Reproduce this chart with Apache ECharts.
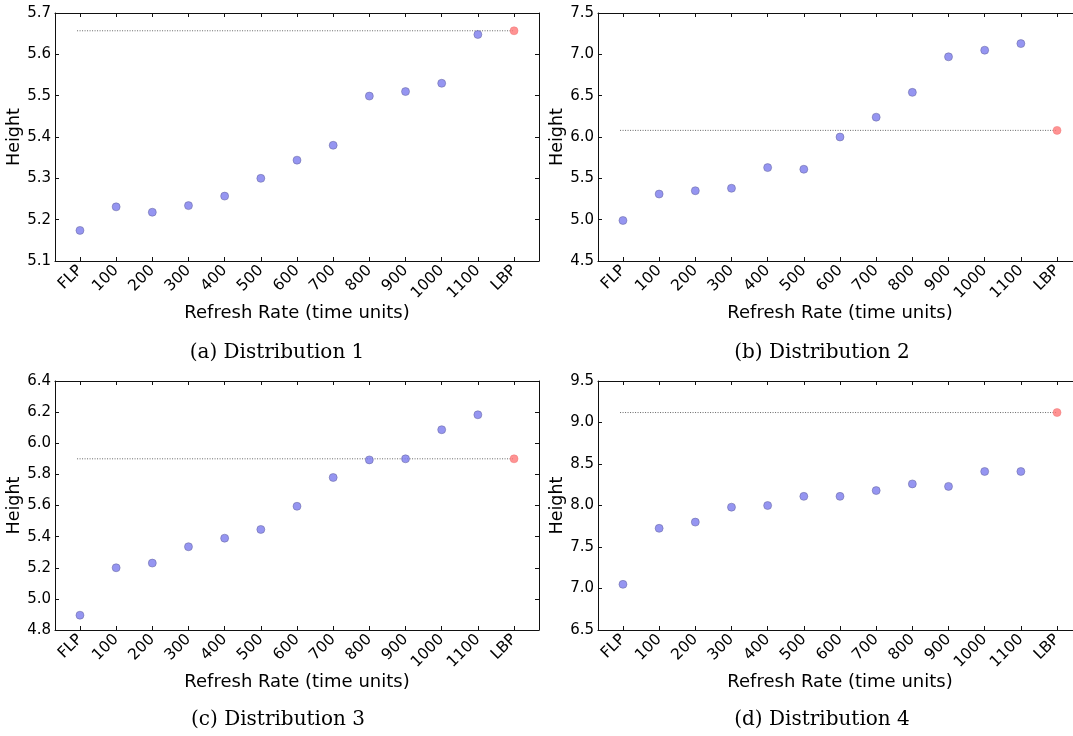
<!DOCTYPE html>
<html>
<head>
<meta charset="utf-8">
<script src="https://cdn.jsdelivr.net/npm/echarts@6/dist/echarts.min.js"></script>
<style>
  html, body { margin: 0; padding: 0; background: #fff; overflow: hidden; }
  /* wider than the window: the right-hand panels are cut off at the page edge like the original */
  #chart { width: 1090px; height: 736px; }
</style>
</head>
<body>
<div id="chart"></div>
<script>
const categories = ['FLP', '100', '200', '300', '400', '500', '600', '700', '800', '900', '1000', '1100', 'LBP'];

// last value of each list is the LBP reference point (drawn red)
const dist1 = [5.174, 5.231, 5.218, 5.234, 5.257, 5.300, 5.344, 5.380, 5.499, 5.510, 5.530, 5.648, 5.657];
const dist2 = [4.99, 5.31, 5.35, 5.38, 5.63, 5.61, 6.00, 6.24, 6.54, 6.97, 7.05, 7.13, 6.08];
const dist3 = [4.895, 5.20, 5.23, 5.335, 5.39, 5.446, 5.595, 5.78, 5.893, 5.90, 6.087, 6.183, 5.90];
const dist4 = [7.05, 7.725, 7.80, 7.98, 8.00, 8.11, 8.11, 8.18, 8.26, 8.23, 8.41, 8.41, 9.12];

const yMin = [5.1, 4.5, 4.8, 6.5];
const yMax = [5.7, 7.5, 6.4, 9.5];
const yStep = [0.1, 0.5, 0.2, 0.5];
const captions = ['(a) Distribution 1', '(b) Distribution 2', '(c) Distribution 3', '(d) Distribution 4'];

const panels = [dist1, dist2, dist3, dist4];
const sans = 'DejaVu Sans';
const pad = 0.69;
const last = categories.length - 1;

const grids = [
  { left: 55, top: 13, width: 484, height: 248 },
  { left: 598, top: 13, width: 484, height: 248 },
  { left: 55, top: 381, width: 484, height: 249 },
  { left: 598, top: 381, width: 484, height: 249 }
];
const captionPos = [[272, 338], [817, 338], [273, 705], [817, 705]];

const axisLine = { show: true, onZero: false, lineStyle: { color: '#111', width: 1 } };
const tickIn = { show: true, inside: true, length: 4, lineStyle: { color: '#111' } };
const tickIdx = categories.map((c, i) => i);

let xAxis = [], yAxis = [], series = [], title = [];

panels.forEach((vals, p) => {
  xAxis.push({
    type: 'value', gridIndex: p, min: -pad, max: last + pad,
    axisLine: axisLine, splitLine: { show: false },
    axisTick: Object.assign({ customValues: tickIdx }, tickIn),
    axisLabel: {
      customValues: tickIdx, rotate: 45, margin: 7, color: '#000',
      fontFamily: sans, fontSize: 15.5,
      formatter: v => categories[Math.round(v)]
    },
    name: 'Refresh Rate (time units)', nameLocation: 'middle', nameGap: 38,
    nameTextStyle: { color: '#000', fontFamily: sans, fontSize: 18 }
  });
  xAxis.push({
    type: 'value', gridIndex: p, position: 'top', min: -pad, max: last + pad,
    axisLine: axisLine, splitLine: { show: false },
    axisTick: Object.assign({ customValues: tickIdx }, tickIn),
    axisLabel: { show: false }
  });
  yAxis.push({
    type: 'value', gridIndex: p, min: yMin[p], max: yMax[p], interval: yStep[p],
    axisLine: axisLine, splitLine: { show: false }, axisTick: tickIn,
    axisLabel: { color: '#000', fontFamily: sans, fontSize: 15, margin: 4,
      formatter: v => v.toFixed(1) },
    name: 'Height', nameLocation: 'middle', nameGap: 25,
    nameTextStyle: { color: '#000', fontFamily: sans, fontSize: 17.5 }
  });
  yAxis.push({
    type: 'value', gridIndex: p, position: 'right', min: yMin[p], max: yMax[p], interval: yStep[p],
    axisLine: axisLine, splitLine: { show: false }, axisTick: tickIn,
    axisLabel: { show: false }
  });

  const ref = vals[last];
  series.push({
    type: 'line', xAxisIndex: p * 2, yAxisIndex: p * 2, symbol: 'none', silent: true,
    data: [[-0.08, ref], [last, ref]],
    lineStyle: { color: '#666', width: 1, type: [1, 1.5] }, z: 1
  });
  series.push({
    type: 'scatter', xAxisIndex: p * 2, yAxisIndex: p * 2, symbolSize: 8,
    data: vals.slice(0, last).map((v, i) => [i, v]),
    itemStyle: { color: '#7a7aee', borderColor: '#5e5e96', borderWidth: 0.6 }, z: 3
  });
  series.push({
    type: 'scatter', xAxisIndex: p * 2, yAxisIndex: p * 2, symbolSize: 8,
    data: [[last, ref]],
    itemStyle: { color: '#ff7878', borderColor: '#e77', borderWidth: 0.6 }, z: 3
  });

  title.push({
    text: captions[p], left: captionPos[p][0], top: captionPos[p][1], textAlign: 'center',
    textStyle: { fontFamily: 'DejaVu Serif', fontWeight: 'normal', fontSize: 20, color: '#000' }
  });
});

const chart = echarts.init(document.getElementById('chart'));
chart.setOption({
  animation: false,
  backgroundColor: '#fff',
  title: title,
  grid: grids,
  xAxis: xAxis,
  yAxis: yAxis,
  series: series
});
</script>
</body>
</html>
